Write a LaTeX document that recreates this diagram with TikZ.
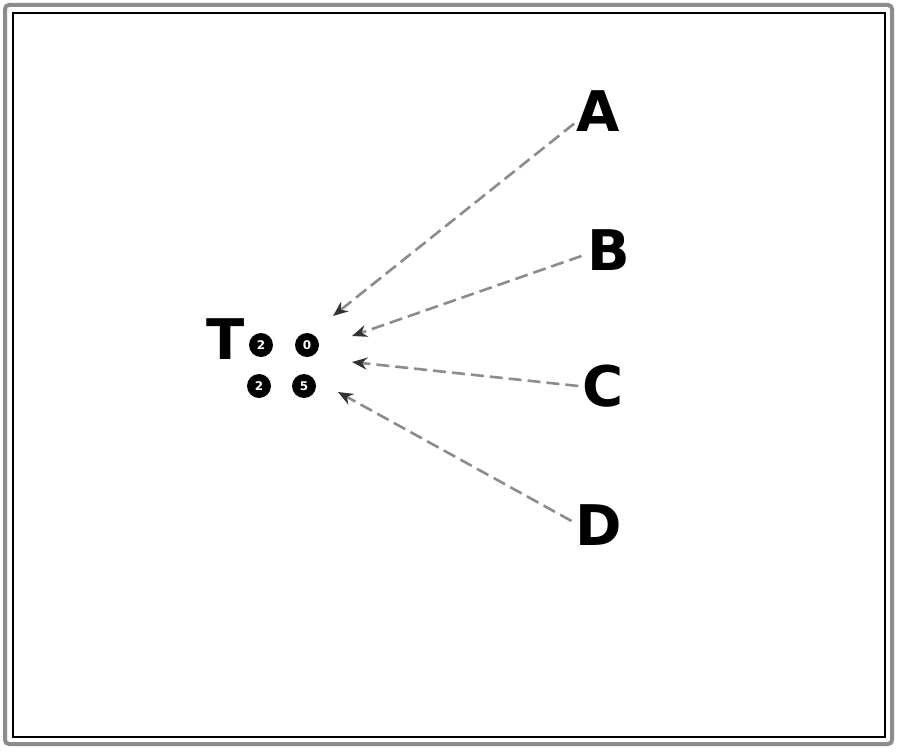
\documentclass[tikz,border=0pt]{standalone}
\usepackage{fontspec}
\setmainfont{DejaVu Sans}
\usetikzlibrary{arrows.meta}
\tikzset{
  letter/.style={font=\fontsize{56}{60}\selectfont\bfseries, inner sep=0pt, text=black},
  dot/.style={circle, fill=black, minimum size=24pt, inner sep=0pt, text=white, font=\fontsize{12}{12}\selectfont\bfseries},
  pointer/.style={draw=black!45, line width=2.6pt, dashed, dash pattern=on 13pt off 6pt, -{Stealth[length=15pt,width=12pt,color=black!80]}},
  frameout/.style={draw=black!45, line width=4pt, rounded corners=4pt},
  framein/.style={draw=black, line width=1.2pt}
}
\begin{document}
\begin{tikzpicture}[x=1pt,y=-1pt]
\useasboundingbox (0,0) rectangle (900,752);
\fill[white] (0,0) rectangle (900,752);
\draw[frameout] (5,5) rectangle (892,744);
\draw[framein] (13,13) rectangle (885,737);
\node[letter] (T) at (226,339) {T};
\node[dot] (c1) at (261,345) {2};
\node[dot] (c2) at (307,345) {0};
\node[dot] (c3) at (259,386) {2};
\node[dot] (c4) at (304,386) {5};
\node[letter] (A) at (598,111) {A};
\node[letter] (B) at (609,250) {B};
\node[letter] (C) at (603,386) {C};
\node[letter] (D) at (599,525) {D};
\coordinate (pa) at (333,316);
\coordinate (pb) at (352,336);
\coordinate (pc) at (352,362);
\coordinate (pd) at (338,392);
\draw[pointer] (A.south west) ++(-2,-8) -- (pa);
\draw[pointer] (B.west) ++(-6,6) -- (pb);
\draw[pointer] (C.west) ++(-4,0) -- (pc);
\draw[pointer] (D.west) ++(-4,-4) -- (pd);
\end{tikzpicture}
\end{document}
